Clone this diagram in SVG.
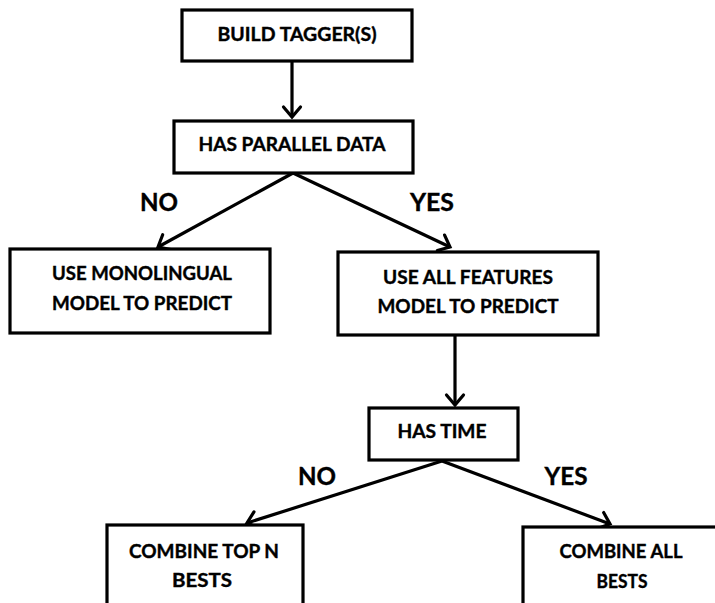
<svg xmlns="http://www.w3.org/2000/svg" width="715" height="603" viewBox="0 0 715 603">
  <defs>
    <marker id="head" viewBox="-14 -12 18 24" refX="0" refY="0" markerWidth="18" markerHeight="24" markerUnits="userSpaceOnUse" orient="auto" overflow="visible">
      <path d="M -10 -8.5 L 0 0 L -10 8.5" fill="none" stroke="#000" stroke-width="3.2" stroke-linecap="round" stroke-linejoin="miter"/>
    </marker>
  </defs>
  <style>
    .box { fill: #fff; stroke: #000; stroke-width: 3.2; }
    .lbl { font-family: Lato, "Open Sans", "Liberation Sans", sans-serif; font-weight: bold; font-size: 19.5px; fill: #000; stroke: #000; stroke-width: 0.4; text-anchor: middle; dominant-baseline: central; }
    .branch { font-family: Lato, "Open Sans", "Liberation Sans", sans-serif; font-weight: bold; font-size: 25px; fill: #000; stroke: #000; stroke-width: 0.4; text-anchor: middle; dominant-baseline: central; }
    .link { fill: none; stroke: #000; stroke-width: 3.2; marker-end: url(#head); }
  </style>
  <rect width="715" height="603" fill="#fff"/>

  <g id="connectors">
    <line class="link" x1="292" y1="61" x2="292" y2="117"/>
    <line class="link" x1="293" y1="173" x2="158" y2="247"/>
    <line class="link" x1="293" y1="173" x2="450" y2="247"/>
    <line class="link" x1="455" y1="335" x2="455" y2="405"/>
    <line class="link" x1="442" y1="461" x2="247" y2="523"/>
    <line class="link" x1="442" y1="461" x2="610" y2="524"/>
    <text class="branch" x="159" y="201" textLength="38" lengthAdjust="spacingAndGlyphs">NO</text>
    <text class="branch" x="432" y="201" textLength="44" lengthAdjust="spacingAndGlyphs">YES</text>
    <text class="branch" x="317" y="475" textLength="38" lengthAdjust="spacingAndGlyphs">NO</text>
    <text class="branch" x="566" y="475" textLength="43" lengthAdjust="spacingAndGlyphs">YES</text>
  </g>

  <g id="build-taggers">
    <rect class="box" x="182" y="10" width="230" height="51"/>
    <text class="lbl" x="297" y="33" textLength="159" lengthAdjust="spacingAndGlyphs">BUILD TAGGER(S)</text>
  </g>

  <g id="has-parallel-data">
    <rect class="box" x="174" y="121" width="239" height="52"/>
    <text class="lbl" x="292" y="143" textLength="187" lengthAdjust="spacingAndGlyphs">HAS PARALLEL DATA</text>
  </g>

  <g id="monolingual">
    <rect class="box" x="10" y="249" width="260" height="84"/>
    <text class="lbl" x="142" y="272" textLength="180" lengthAdjust="spacingAndGlyphs">USE MONOLINGUAL</text>
    <text class="lbl" x="142" y="302" textLength="180" lengthAdjust="spacingAndGlyphs">MODEL TO PREDICT</text>
  </g>

  <g id="all-features">
    <rect class="box" x="338" y="252" width="260" height="83"/>
    <text class="lbl" x="468" y="276" textLength="170" lengthAdjust="spacingAndGlyphs">USE ALL FEATURES</text>
    <text class="lbl" x="468" y="305" textLength="181" lengthAdjust="spacingAndGlyphs">MODEL TO PREDICT</text>
  </g>

  <g id="has-time">
    <rect class="box" x="369" y="408" width="149" height="52"/>
    <text class="lbl" x="442" y="430" textLength="89" lengthAdjust="spacingAndGlyphs">HAS TIME</text>
  </g>

  <g id="combine-top-n">
    <rect class="box" x="107" y="525" width="196" height="90"/>
    <text class="lbl" x="204" y="550" textLength="150" lengthAdjust="spacingAndGlyphs">COMBINE TOP N</text>
    <text class="lbl" x="202" y="579" textLength="60" lengthAdjust="spacingAndGlyphs">BESTS</text>
  </g>

  <g id="combine-all">
    <rect class="box" x="523" y="527" width="210" height="90"/>
    <text class="lbl" x="621" y="550" textLength="123" lengthAdjust="spacingAndGlyphs">COMBINE ALL</text>
    <text class="lbl" x="622" y="580" textLength="51" lengthAdjust="spacingAndGlyphs">BESTS</text>
  </g>
</svg>
